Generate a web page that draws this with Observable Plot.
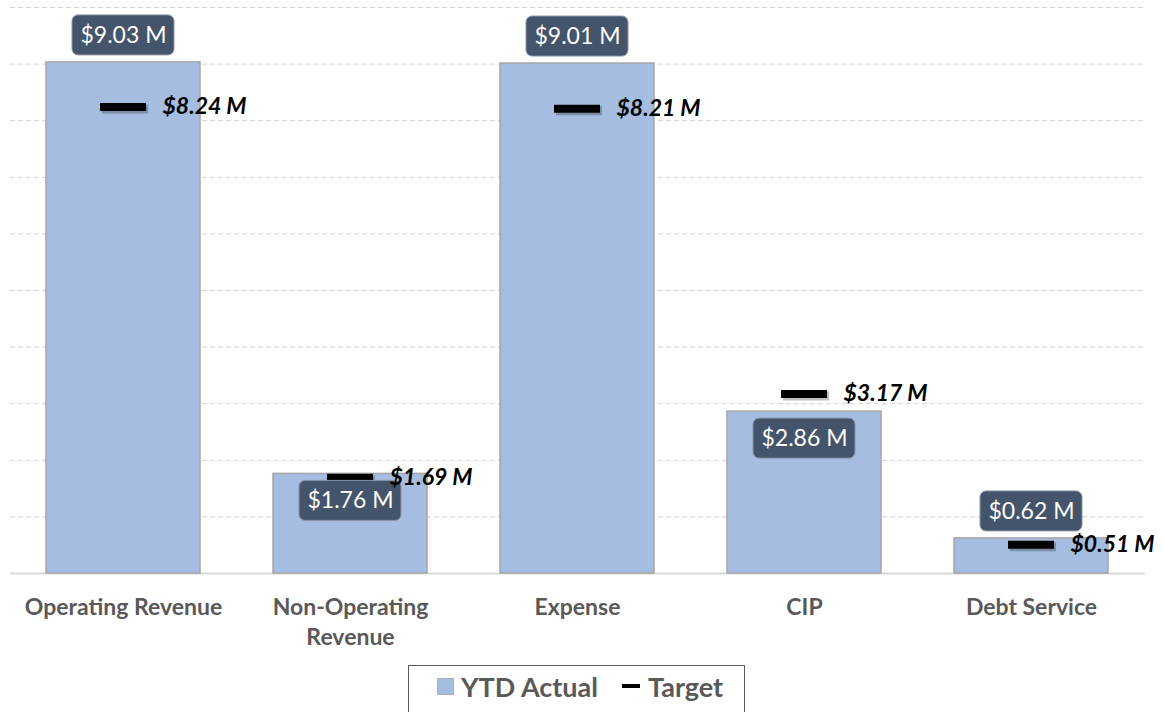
<!DOCTYPE html>
<html>
<head>
<meta charset="utf-8">
<script src="https://cdn.jsdelivr.net/npm/d3@7"></script>
<script src="https://cdn.jsdelivr.net/npm/@observablehq/plot@0.6"></script>
<style>
  html, body { margin: 0; padding: 0; background: #fff; }
  #chart { position: relative; width: 1163px; height: 712px; overflow: hidden; }
  #legend {
    position: absolute; left: 408px; top: 665px; width: 337px; height: 52px;
    border: 1px solid #5a5a5a; box-sizing: border-box; background: #fff;
    font-family: Lato, "Open Sans", sans-serif; font-weight: bold; font-size: 27px; color: #595959;
    display: flex; align-items: center; padding-left: 28px; padding-bottom: 10px;
  }
  .sw { display: inline-block; width: 17px; height: 17px; background: #a4bde0; border: 1px solid #b0b0b0; box-sizing: border-box; margin-right: 7px; }
  .dash { display: inline-block; width: 18px; height: 4px; background: #000; margin-left: 24px; margin-right: 8px; }
</style>
</head>
<body>
<div id="chart"></div>
<script>
const categories = ["Operating Revenue", "Non-Operating Revenue", "Expense", "CIP", "Debt Service"];
const tickLabels = ["Operating Revenue", "Non-Operating\nRevenue", "Expense", "CIP", "Debt Service"];
const ytdActual = [9.03, 1.76, 9.01, 2.86, 0.62];
const target = [8.24, 1.69, 8.21, 3.17, 0.51];
// value label placement relative to bar top
const labelPlacement = ["above", "inside", "above", "inside", "above"];

const data = categories.map((c, i) => ({
  cat: c, actual: ytdActual[i], target: target[i], place: labelPlacement[i]
}));
const above = data.filter(d => d.place === "above");
const inside = data.filter(d => d.place === "inside");
const fmt = v => "$" + v.toFixed(2) + " M";
const font = "Lato, 'Open Sans', sans-serif";

const boxMark = (rows, dy) => Plot.barY(rows, { x: "cat", y1: "actual", y2: "actual", dy,
  insetTop: -20, insetBottom: -20, insetLeft: 26, insetRight: 26, rx: 6,
  fill: "#44546a", stroke: "#8a96a8", strokeWidth: 1 });
const boxText = (rows, dy) => Plot.text(rows, { x: "cat", y: "actual", dy, text: d => fmt(d.actual),
  fill: "#fff", fontSize: 23 });

const chart = Plot.plot({
  width: 1163,
  height: 655,
  marginTop: 7,
  marginBottom: 82,
  marginLeft: 10,
  marginRight: 18,
  style: { fontFamily: font, background: "#fff" },
  x: { domain: categories, paddingInner: 0.32, paddingOuter: 0.16, label: null },
  y: { domain: [0, 10], label: null, axis: null },
  marks: [
    Plot.gridY({ ticks: 10, stroke: "#d0d0d0", strokeOpacity: 1, strokeDasharray: "5,3" }),
    Plot.ruleY([0], { stroke: "#d9d9d9", strokeWidth: 2 }),
    Plot.barY(data, { x: "cat", y: "actual", fill: "#a4bde0", stroke: "#a6a6a6", strokeWidth: 1.5 }),
    // target marker shadow + marker
    Plot.tickY(data, { x: "cat", y: "target", stroke: "#000", strokeOpacity: 0.25, strokeWidth: 9, insetLeft: 55, insetRight: 53, dy: 2, dx: 1 }),
    Plot.tickY(data, { x: "cat", y: "target", stroke: "#000", strokeWidth: 8, insetLeft: 54, insetRight: 54 }),
    boxMark(above, -27),
    boxMark(inside, 27),
    boxText(above, -27),
    boxText(inside, 27),
    Plot.text(data, { x: "cat", y: "target", text: d => fmt(d.target), dx: 39, textAnchor: "start",
      fontSize: 23, fontWeight: "bold", fontStyle: "italic", fill: "#000" }),
    Plot.axisX({ tickSize: 0, tickPadding: 20, fontSize: 23, fontWeight: "bold", fill: "#595959",
      tickFormat: d => tickLabels[categories.indexOf(d)], lineHeight: 1.3, label: null })
  ]
});
const holder = document.getElementById("chart");
holder.appendChild(chart);

const legend = document.createElement("div");
legend.id = "legend";
legend.innerHTML = '<span class="sw"></span><span>YTD Actual</span><span class="dash"></span><span>Target</span>';
holder.appendChild(legend);
</script>
</body>
</html>
